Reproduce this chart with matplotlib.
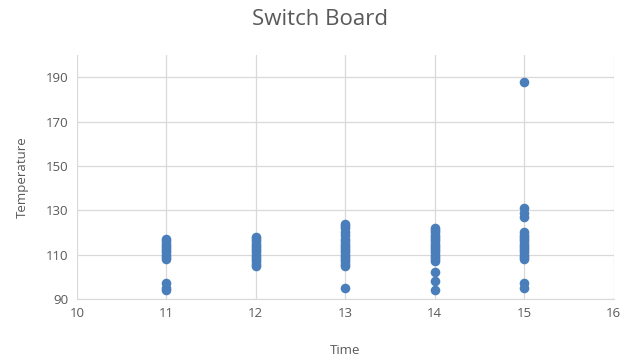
import matplotlib
matplotlib.use("Agg")
import matplotlib.pyplot as plt

# Readings per hour
times_11 = [117, 116, 115, 114, 113, 112, 111, 110, 109, 108, 97, 95, 94]
times_12 = [118, 117, 116, 115, 114, 113, 112, 111, 110, 109, 108, 107, 106, 105]
times_13 = [124, 123, 122, 120, 119, 117, 116, 115, 114, 113, 112, 111, 110, 109, 108, 107, 106, 105, 95]
times_14 = [122, 121, 120, 119, 118, 117, 116, 115, 114, 113, 112, 111, 110, 109, 108, 107, 102, 98, 94]
times_15 = [188, 131, 129, 127, 120, 119, 118, 117, 116, 115, 114, 113, 112, 111, 110, 109, 108, 97, 95]

hours = [11, 12, 13, 14, 15]
readings = [times_11, times_12, times_13, times_14, times_15]

x_ticks = [10, 11, 12, 13, 14, 15, 16]
y_ticks = [90, 110, 130, 150, 170, 190]

plt.rcParams['font.family'] = ['Open Sans', 'DejaVu Sans']
text_color = "#595959"
grid_color = "#d9d9d9"

fig = plt.figure(figsize=(6.4, 3.62), dpi=100)
ax = fig.add_axes([0.12, 0.174, 0.839, 0.674])

xs, ys = [], []
for h, vals in zip(hours, readings):
    xs.extend([h] * len(vals))
    ys.extend(vals)
ax.scatter(xs, ys, s=48, color="#4a7ebb", zorder=3, linewidths=0)

ax.set_xlim(10, 16)
ax.set_ylim(90, 200)
ax.set_xticks(x_ticks)
ax.set_yticks(y_ticks)
ax.grid(True, color=grid_color, linewidth=0.9)
ax.set_axisbelow(True)
for side in ("top", "right", "left"):
    ax.spines[side].set_visible(False)
ax.spines["bottom"].set_color(grid_color)
ax.tick_params(length=0, labelsize=9.5, colors=text_color, pad=6)

ax.set_xlabel("Time", fontsize=9.5, color=text_color, labelpad=17)
ax.set_ylabel("Temperature", fontsize=9.5, color=text_color, labelpad=12)
fig.suptitle("Switch Board", fontsize=16, color=text_color, y=0.975)

fig.savefig("out.png", dpi=100)
